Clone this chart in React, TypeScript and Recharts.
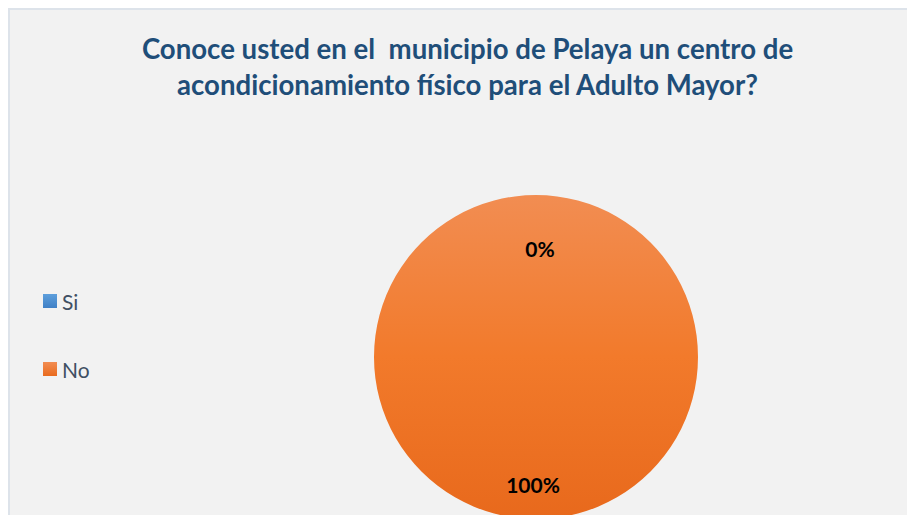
import { PieChart, Pie, Cell } from "recharts"

const categories = ["Si", "No"]
const values = [0, 100]
const title = [
  "Conoce usted en el  municipio de Pelaya un centro de",
  "acondicionamiento físico para el Adulto Mayor?",
]

const data = categories.map((name, i) => ({ name, value: values[i] }))
const fills = ["url(#siFill)", "url(#noFill)"]
const legendFills = [
  "linear-gradient(#5e9fdc, #3f80c6)",
  "linear-gradient(#f28d52, #e96b1e)",
]

const RADIAN = Math.PI / 180

const renderLabel = (props: any) => {
  const { cx, cy, midAngle, index, value } = props
  // Excel "best fit" puts the two labels at different depths
  const r = index === 0 ? 109 : 127
  const dx = index === 0 ? 4 : -3
  const x = cx + dx + r * Math.cos(-midAngle * RADIAN)
  const y = cy + r * Math.sin(-midAngle * RADIAN)
  return (
    <text
      key={`lbl-${index}`}
      x={x}
      y={y}
      textAnchor="middle"
      dominantBaseline="central"
      fill="#000"
      fontFamily="Lato"
      fontWeight={700}
      fontSize={21}
    >
      {`${Math.round(value)}%`}
    </text>
  )
}

export default function App() {
  return (
    <div
      style={{
        position: "relative",
        width: 905,
        height: 505,
        background: "#f2f2f2",
        borderLeft: "2px solid #dde3ea",
        borderTop: "2px solid #dde3ea",
        overflow: "hidden",
      }}
    >
      <div
        style={{
          position: "absolute",
          left: 0,
          top: 21,
          width: 915,
          textAlign: "center",
          fontFamily: "Lato",
          fontWeight: 700,
          fontSize: 27.6,
          lineHeight: "36px",
          color: "#1f4e79",
          whiteSpace: "pre",
        }}
      >
        {title.map(t => (
          <div key={t}>{t}</div>
        ))}
      </div>
      <div
        style={{
          position: "absolute",
          left: 33,
          top: 268,
          fontFamily: "Lato",
          fontSize: 21,
          color: "#404f63",
        }}
      >
        {categories.map((c, i) => (
          <div
            key={c}
            style={{ display: "flex", alignItems: "center", height: 46, marginBottom: i === 0 ? 22 : 0 }}
          >
            <span
              style={{
                display: "inline-block",
                width: 14,
                height: 14,
                background: legendFills[i],
                marginRight: 5,
              }}
            />
            {c}
          </div>
        ))}
      </div>
      <PieChart width={905} height={505} style={{ position: "absolute", left: 0, top: 0 }}>
        <defs>
          <linearGradient id="noFill" x1="0" y1="0" x2="0" y2="1">
            <stop offset="0%" stopColor="#f28d52" />
            <stop offset="50%" stopColor="#f27a2b" />
            <stop offset="100%" stopColor="#e8691c" />
          </linearGradient>
          <linearGradient id="siFill" x1="0" y1="0" x2="0" y2="1">
            <stop offset="0%" stopColor="#5e9fdc" />
            <stop offset="100%" stopColor="#3f80c6" />
          </linearGradient>
        </defs>
        <Pie
          data={data}
          dataKey="value"
          nameKey="name"
          cx={521}
          cy={342}
          outerRadius={162}
          startAngle={90}
          endAngle={-270}
          stroke="none"
          label={renderLabel}
          labelLine={false}
          isAnimationActive={false}
        >
          {data.map((d, i) => (
            <Cell key={d.name} fill={fills[i]} />
          ))}
        </Pie>
      </PieChart>
    </div>
  )
}
